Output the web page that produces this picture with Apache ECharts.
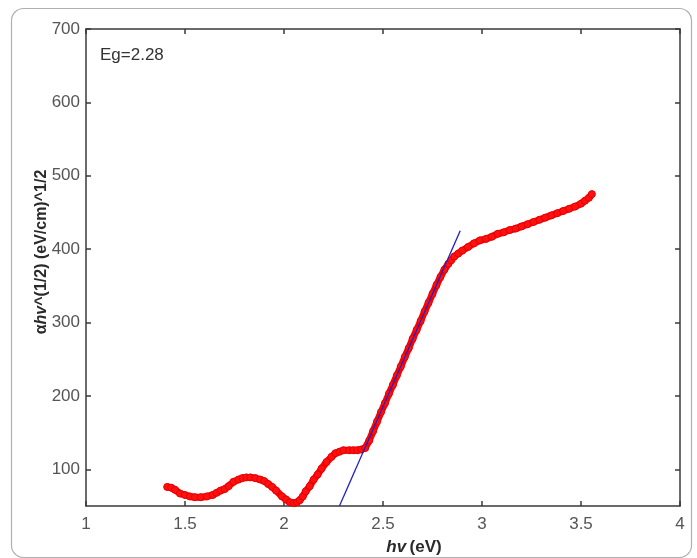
<!DOCTYPE html>
<html>
<head>
<meta charset="utf-8">
<script src="https://cdn.jsdelivr.net/npm/echarts@6/dist/echarts.min.js"></script>
<style>html,body{margin:0;padding:0;background:#fff}#c{width:697px;height:558px}</style>
</head>
<body>
<div id="c"></div>
<script>
// measured data (hv in eV, alpha*hv^(1/2))
const hv = [1.41,1.43,1.45,1.475,1.50,1.525,1.55,1.58,1.61,1.64,1.66,1.68,1.70,1.72,1.745,1.77,1.79,1.81,1.83,1.855,1.88,1.90,1.92,1.94,1.96,1.99,2.01,2.03,2.05,2.065,2.08,2.095,2.11,2.13,2.15,2.17,2.19,2.215,2.24,2.26,2.28,2.30,2.33,2.35,2.37,2.39,2.41,2.43,2.45,2.47,2.49,2.51,2.53,2.55,2.57,2.59,2.61,2.63,2.65,2.67,2.69,2.71,2.73,2.75,2.77,2.79,2.81,2.83,2.845,2.86,2.88,2.90,2.93,2.96,2.99,3.02,3.05,3.08,3.11,3.14,3.17,3.20,3.23,3.26,3.29,3.32,3.35,3.38,3.41,3.44,3.47,3.50,3.52,3.54,3.555];
const ahv = [76,75,72,67,65,63,62,62,63,65,68,71,73,77,83,86,88,89,89,88,86,84,80,76,71,63,59,55,54,55,58,63,70,77,86,93,101,110,117,122,124,126,126,126,126,127,129,139,152,165,178,190,203,215,228,240,253,265,278,290,302,315,327,339,351,362,372,380,385,390,394,398,403,408,412,414,417,421,423,426,428,431,434,437,440,443,446,449,452,455,458,462,466,470,475];
const fitLine = [[2.28,50],[2.89,425]];
const xTicks = [1,1.5,2,2.5,3,3.5,4];
const yTicks = [100,200,300,400,500,600,700];
const egText = 'Eg=2.28';

const chart = echarts.init(document.getElementById('c'), null, {renderer:'canvas'});
const pts = hv.map((x,i)=>[x,ahv[i]]);
const axisLine = {show:true, lineStyle:{color:'#3a3a3a', width:1.5}};
const tickStyle = {show:true, inside:true, length:5, lineStyle:{color:'#3a3a3a', width:1.5}};
const lblFont = {color:'#555', fontFamily:'Liberation Sans, Arial, sans-serif', fontSize:17};
chart.setOption({
  animation:false,
  backgroundColor:'#fff',
  grid:{left:86, right:17, top:29, bottom:52, containLabel:false},
  xAxis:[
    {type:'value', min:1, max:4, interval:0.5, position:'bottom', axisLine, axisTick:Object.assign({customValues:xTicks}, tickStyle), splitLine:{show:false},
     axisLabel:Object.assign({margin:10, customValues:xTicks, formatter:v=>String(v)}, lblFont)},
    {type:'value', min:1, max:4, interval:0.5, position:'top', axisLine, axisTick:Object.assign({customValues:xTicks}, tickStyle), splitLine:{show:false}, axisLabel:{show:false}}
  ],
  yAxis:[
    {type:'value', min:50, max:700, position:'left', axisLine, axisTick:Object.assign({customValues:yTicks}, tickStyle), splitLine:{show:false},
     axisLabel:Object.assign({margin:6, customValues:yTicks}, lblFont)},
    {type:'value', min:50, max:700, position:'right', axisLine, axisTick:Object.assign({customValues:yTicks}, tickStyle), splitLine:{show:false}, axisLabel:{show:false}}
  ],
  series:[
    {type:'line', data:pts, xAxisIndex:0, yAxisIndex:0, symbol:'circle', symbolSize:7, showSymbol:true,
     itemStyle:{color:'#ff1010', borderColor:'#e80000', borderWidth:1}, lineStyle:{color:'#ff0000', width:7}, z:2},
    {type:'line', data:fitLine, xAxisIndex:0, yAxisIndex:0, symbol:'none', lineStyle:{color:'#2020c8', width:1.3}, z:3}
  ],
  graphic:[
    {type:'rect', left:9, top:6, shape:{width:680, height:549, r:12}, style:{fill:'none', stroke:'#b0b0b0', lineWidth:1.2}, silent:true, z:-1},
    {type:'text', left:100, top:47, style:{text:egText, font:'17px "Liberation Sans", Arial, sans-serif', fill:'#333'}},
    {type:'text', x:42, y:252, rotation:Math.PI/2, style:{
      text:'{b|α}{i|hv}{b|^(1/2) (eV/cm)^1/2}', align:'center', verticalAlign:'middle',
      rich:{b:{font:'bold 16px "Liberation Sans", Arial, sans-serif', fill:'#2a2a2a'}, i:{font:'italic bold 16px "Liberation Sans", Arial, sans-serif', fill:'#2a2a2a'}}}},
    {type:'text', x:414, y:547, style:{
      text:'{i|hv} {b|(eV)}', align:'center', verticalAlign:'middle',
      rich:{b:{font:'bold 17px "Liberation Sans", Arial, sans-serif', fill:'#2a2a2a'}, i:{font:'italic bold 17px "Liberation Sans", Arial, sans-serif', fill:'#2a2a2a'}}}}
  ]
});
</script>
</body>
</html>
